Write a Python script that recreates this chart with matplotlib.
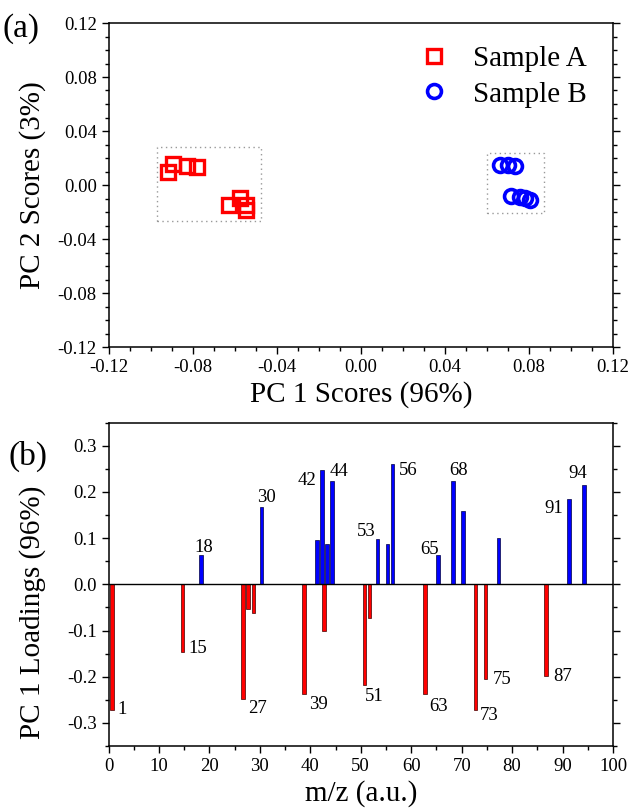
import matplotlib
matplotlib.use("Agg")
import matplotlib.pyplot as plt
from matplotlib.ticker import MultipleLocator, FormatStrFormatter
from matplotlib.patches import Rectangle

plt.rcParams['font.family'] = ['Liberation Serif', 'DejaVu Serif']
plt.rcParams['axes.unicode_minus'] = False

# ---------------- data: panel (a) ----------------
a_pc1 = [-0.0892, -0.0828, -0.0780, -0.0916, -0.0625, -0.0574, -0.0546, -0.0546]
a_pc2 = [0.0153, 0.0143, 0.0131, 0.0094, -0.0148, -0.0099, -0.0148, -0.0185]
b_pc1 = [0.0662, 0.0702, 0.0734, 0.0713, 0.0758, 0.0781, 0.0805]
b_pc2 = [0.0148, 0.0148, 0.0143, -0.0081, -0.0086, -0.0099, -0.0111]
box_a = [-0.0968, -0.0476, -0.0264, 0.0279]   # xmin, xmax, ymin, ymax
box_b = [0.0602, 0.0872, -0.0205, 0.0239]

# ---------------- data: panel (b) ----------------
neg_mz = [1, 15, 27, 28, 29, 39, 43, 51, 52, 63, 73, 75, 87]
neg_val = [-0.273, -0.147, -0.249, -0.053, -0.063, -0.238, -0.101, -0.217,
           -0.073, -0.237, -0.273, -0.204, -0.198]
pos_mz = [18, 30, 41, 42, 43, 44, 53, 55, 56, 65, 68, 70, 77, 91, 94]
pos_val = [0.064, 0.167, 0.095, 0.247, 0.088, 0.224, 0.099, 0.087, 0.261,
           0.064, 0.224, 0.159, 0.101, 0.185, 0.216]
lab_text = ['1', '15', '18', '27', '30', '39', '42', '44', '51', '53', '56',
            '63', '65', '68', '73', '75', '87', '91', '94']
lab_x = [2.6, 17.7, 18.8, 29.5, 31.4, 41.6, 39.4, 45.7, 52.6, 51.0, 59.4,
         65.4, 63.7, 69.3, 75.5, 78.1, 90.0, 88.3, 93.1]
lab_y = [-0.271, -0.140, 0.080, -0.268, 0.188, -0.261, 0.225, 0.244, -0.243,
         0.114, 0.246, -0.265, 0.076, 0.247, -0.283, -0.206, -0.199, 0.164, 0.240]

W, H = 632, 811
fig = plt.figure(figsize=(W / 100, H / 100), dpi=100)

L, R = 108.5 / W, 613 / W
ax1 = fig.add_axes([L, 1 - 347 / H, R - L, (347 - 23) / H])
ax2 = fig.add_axes([L, 1 - 746 / H, R - L, (746 - 422.6) / H])

tick_fs = 13.5
label_fs = 21


def style_axes(ax):
    for s in ax.spines.values():
        s.set_linewidth(1.1)
    ax.tick_params(which='both', direction='out', top=False, right=True,
                   labelsize=tick_fs, width=1.0)
    ax.tick_params(which='major', length=5)
    ax.tick_params(which='minor', length=3)
    ax.tick_params(axis='y', which='both', labelright=False)


# ---- panel (a)
ax1.plot(a_pc1, a_pc2, ls='none', marker='s', ms=9.5, mfc='none', mec='#ff0000',
         mew=2.4, label='Sample A')
ax1.plot(b_pc1, b_pc2, ls='none', marker='o', ms=10, mfc='none', mec='#0000ff',
         mew=2.6, label='Sample B')
for bx in (box_a, box_b):
    ax1.add_patch(Rectangle((bx[0], bx[2]), bx[1] - bx[0], bx[3] - bx[2],
                            fill=False, ls=(0, (1, 2.5)), lw=1.0, ec='#999999'))
ax1.set_xlim(-0.12, 0.12)
ax1.set_ylim(-0.12, 0.12)
ax1.xaxis.set_major_locator(MultipleLocator(0.04))
ax1.xaxis.set_minor_locator(MultipleLocator(0.01))
ax1.yaxis.set_major_locator(MultipleLocator(0.04))
ax1.yaxis.set_minor_locator(MultipleLocator(0.01))
ax1.xaxis.set_major_formatter(FormatStrFormatter('%.2f'))
ax1.yaxis.set_major_formatter(FormatStrFormatter('%.2f'))
style_axes(ax1)
ax1.set_xlabel('PC 1 Scores (96%)', fontsize=label_fs, labelpad=4)
ax1.set_ylabel('PC 2 Scores (3%)', fontsize=label_fs)
ax1.yaxis.set_label_coords(-0.124, 0.5)
ax1.legend(loc='upper left', bbox_to_anchor=(0.587, 0.965), frameon=False,
           fontsize=label_fs, handlelength=1.2, handletextpad=0.75,
           labelspacing=0.3, borderaxespad=0)

# ---- panel (b)
off = 0.3
ax2.bar([m - off for m in neg_mz], neg_val, width=0.7, color='#ff0000',
        edgecolor='#400000', lw=0.5, zorder=2)
ax2.bar([m + off for m in pos_mz], pos_val, width=0.7, color='#0000ff',
        edgecolor='#000040', lw=0.5, zorder=2)
ax2.axhline(0, color='black', lw=1.0, zorder=3)
for t, x, y in zip(lab_text, lab_x, lab_y):
    ax2.text(x, y, t, fontsize=13.5, ha='center', va='center')
ax2.set_xlim(0, 100)
ax2.set_ylim(-0.35, 0.35)
ax2.xaxis.set_major_locator(MultipleLocator(10))
ax2.xaxis.set_minor_locator(MultipleLocator(5))
ax2.yaxis.set_major_locator(MultipleLocator(0.1))
ax2.yaxis.set_minor_locator(MultipleLocator(0.05))
ax2.yaxis.set_major_formatter(FormatStrFormatter('%.1f'))
style_axes(ax2)
ax2.set_xlabel('m/z (a.u.)', fontsize=label_fs, labelpad=4)
ax2.set_ylabel('PC 1 Loadings (96%)', fontsize=label_fs)
ax2.yaxis.set_label_coords(-0.124, 0.414)

fig.text(21.5 / W, 1 - 29 / H, '(a)', fontsize=24, ha='center', va='center')
fig.text(28 / W, 1 - 456 / H, '(b)', fontsize=24, ha='center', va='center')

fig.savefig('out.png', dpi=100)
